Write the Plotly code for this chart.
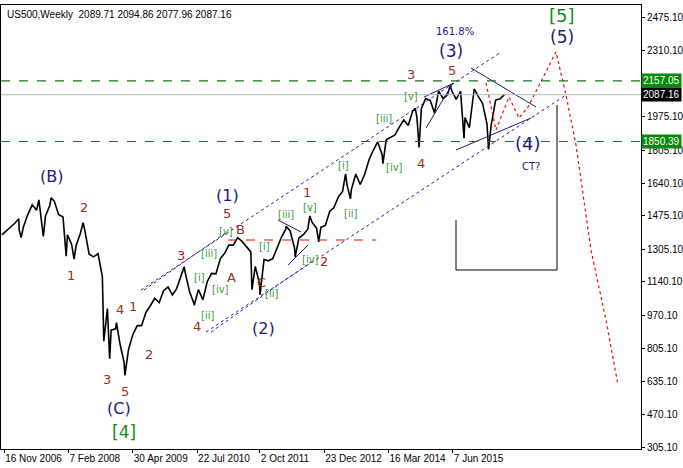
import plotly.graph_objects as go
import pandas as pd
from datetime import datetime, timedelta

# ================== 데이터 ==================
months = pd.date_range("2006-10-31", "2016-05-31", freq="ME")
closes = [
    1378, 1400, 1418,
    1438, 1406, 1421, 1482, 1530, 1503, 1455, 1474, 1527, 1549, 1481, 1468,
    1378, 1330, 1323, 1386, 1400, 1280, 1267, 1283, 1166, 969, 896, 903,
    826, 735, 798, 873, 919, 919, 987, 1021, 1057, 1036, 1096, 1115,
    1074, 1104, 1169, 1187, 1089, 1031, 1102, 1049, 1141, 1183, 1181, 1258,
    1286, 1327, 1326, 1364, 1345, 1321, 1292, 1219, 1131, 1253, 1247, 1258,
    1312, 1366, 1408, 1398, 1310, 1362, 1379, 1407, 1441, 1412, 1416, 1426,
    1498, 1515, 1569, 1598, 1631, 1606, 1686, 1633, 1682, 1757, 1806, 1848,
    1783, 1859, 1872, 1884, 1924, 1960, 1931, 2003, 1972, 2018, 2068, 2059,
    1995, 2105, 2068, 2086, 2107, 2063, 2104, 1972, 1920, 2079, 2080, 2044,
    1940, 1932, 2060, 2065, 2087.16,
]
# 월중 고점/저점 (차트에서 눈으로 읽음)
extreme_dates = ["2007-02-26", "2007-03-14", "2007-07-16", "2007-08-16", "2007-10-09",
                 "2008-01-22", "2008-03-17", "2008-05-19", "2008-10-10", "2008-11-04",
                 "2008-11-20", "2009-01-06", "2009-03-06", "2010-04-23", "2010-07-02",
                 "2011-04-29", "2011-08-08", "2011-10-03", "2012-04-02", "2012-06-04",
                 "2012-09-14", "2012-11-15", "2013-05-21", "2013-06-24", "2014-02-05",
                 "2014-09-18", "2014-10-15", "2015-05-20", "2015-08-24", "2015-11-03",
                 "2016-02-11"]
extreme_vals = [1460, 1364, 1555, 1370, 1565,
                1270, 1256, 1440, 840, 1005,
                752, 934, 667, 1217, 1022,
                1364, 1101, 1075, 1422, 1266,
                1474, 1343, 1687, 1560, 1738,
                2019, 1820, 2134, 1867, 2116,
                1810]

price = pd.Series(closes, index=months)
price = pd.concat([price, pd.Series(extreme_vals, index=pd.to_datetime(extreme_dates))]).sort_index()

tick_dates = ["2006-11-16", "2008-02-07", "2009-04-30", "2010-07-22",
              "2011-10-02", "2012-12-23", "2014-03-16", "2015-06-07"]
tick_text = ["16 Nov 2006", "7 Feb 2008", "30 Apr 2009", "22 Jul 2010",
             "2 Oct 2011", "23 Dec 2012", "16 Mar 2014", "7 Jun 2015"]
y_ticks = [305.10, 470.10, 635.10, 805.10, 970.10, 1140.10, 1305.10,
           1475.10, 1640.10, 1805.10, 1975.10, 2310.10, 2475.10]
level_hi, level_lo, last_price = 2157.05, 1850.39, 2087.16

# ================== 화면 좌표 -> 데이터 좌표 ==================
BASE = datetime(2006, 10, 25)
def X(px):
    return BASE + timedelta(weeks=px / 1.005)
def Y(py):
    return 305.1 + (447 - py) / 0.1977

NAVY = "#1a1a80"
RED = "#9b2d20"
GRN = "#3a9a3a"
FONT = "Liberation Sans"

fig = go.Figure()
fig.add_trace(go.Scatter(x=price.index, y=price.values, mode="lines",
                         line=dict(color="black", width=1.6), hoverinfo="skip"))

def seg(pts, color, dash="solid", width=1):
    fig.add_trace(go.Scatter(x=[X(p[0]) for p in pts], y=[Y(p[1]) for p in pts],
                             mode="lines", line=dict(color=color, dash=dash, width=width),
                             hoverinfo="skip"))

# 채널 / 삼각형 / 예상 경로
seg([(140, 290), (500, 52)], "#2020a0", "dot")
seg([(205, 332), (565, 95)], "#2020a0", "dot")
seg([(210, 332), (310, 262)], "#2020a0", "dot")
seg([(143, 290), (226, 232)], "#2020a0", "dot")
seg([(277, 220), (300, 232)], NAVY)
seg([(287, 265), (307, 245)], NAVY)
seg([(423, 97), (453, 83)], NAVY)
seg([(425, 128), (452, 83)], NAVY)
seg([(470, 68), (535, 107)], NAVY)
seg([(455, 150), (530, 118)], NAVY)
seg([(227, 240), (375, 240)], "red", "dash")
seg([(485, 83), (495, 130), (508, 97), (518, 118), (527, 107), (555, 52),
     (565, 95), (575, 145), (590, 250), (605, 320), (617, 385)], "red", "dot", 1.2)
seg([(455, 220), (455, 270), (556, 270), (556, 105)], "black")

for lv in (level_hi, level_lo):
    fig.add_hline(y=lv, line=dict(color="#1e6e1e", dash="dash", width=1.2))
fig.add_hline(y=last_price, line=dict(color="#b8b8b8", width=1))

# 파동 라벨
labels = [
    ("(B)", 50, 176, NAVY, 16), ("2", 83, 207, RED, 13), ("1", 70, 275, RED, 13),
    ("4", 119, 309, RED, 13), ("1", 132, 306, RED, 13), ("3", 106, 379, RED, 13),
    ("5", 124, 391, RED, 13), ("2", 148, 354, RED, 13), ("(C)", 118, 408, NAVY, 16),
    ("[4]", 123, 432, "#1a8a1a", 17),
    ("3", 180, 255, RED, 13), ("A", 230, 277, RED, 13), ("4", 196, 326, RED, 13),
    ("5", 226, 213, RED, 13), ("B", 239, 229, RED, 13), ("(1)", 226, 195, NAVY, 16),
    ("[iii]", 208, 253, GRN, 10), ("[v]", 225, 231, GRN, 10), ("[i]", 198, 277, GRN, 10),
    ("[iv]", 219, 289, GRN, 10), ("[ii]", 206, 315, GRN, 10), ("[i]", 263, 246, GRN, 10),
    ("C", 260, 282, RED, 13), ("(2)", 262, 328, NAVY, 16), ("[ii]", 270, 293, GRN, 10),
    ("[iii]", 285, 214, GRN, 10), ("[v]", 309, 207, GRN, 10), ("1", 306, 192, RED, 13),
    ("[iv]", 309, 259, GRN, 10), ("2", 323, 261, RED, 13),
    ("[i]", 342, 165, GRN, 10), ("[ii]", 349, 213, GRN, 10), ("[iii]", 383, 118, GRN, 10),
    ("[iv]", 393, 167, GRN, 10), ("[v]", 410, 96, GRN, 10), ("3", 410, 74, RED, 13),
    ("4", 420, 163, RED, 13), ("5", 451, 70, RED, 13), ("(3)", 450, 51, NAVY, 17),
    ("161.8%", 454, 31, NAVY, 10), ("(4)", 527, 143, NAVY, 18), ("CT?", 530, 166, NAVY, 10),
    ("[5]", 561, 15, "#1a8a1a", 18), ("(5)", 561, 37, NAVY, 17),
]
for t, px, py, c, s in labels:
    fig.add_annotation(x=X(px), y=Y(py), text=t, showarrow=False,
                       font=dict(color=c, size=s, family="DejaVu Sans"))

fig.add_annotation(xref="paper", yref="paper", x=0.006, y=0.995, xanchor="left", yanchor="top",
                   text="US500,Weekly  2089.71 2094.86 2077.96 2087.16", showarrow=False,
                   font=dict(size=10, color="black", family=FONT))

for lv, bg in ((level_hi, "#0a8a0a"), (last_price, "black"), (level_lo, "#0a8a0a")):
    fig.add_annotation(xref="paper", x=1.0, y=lv, xanchor="left", text=f"{lv:.2f}",
                       showarrow=False, bgcolor=bg, borderpad=1,
                       font=dict(size=10, color="white", family=FONT))

fig.update_layout(
    width=683, height=468, showlegend=False,
    margin=dict(l=1, r=42, t=5, b=19),
    paper_bgcolor="white", plot_bgcolor="white",
    xaxis=dict(range=[X(0), X(640)], tickvals=pd.to_datetime(tick_dates), ticktext=tick_text,
               showgrid=False, ticks="outside", ticklen=3, tickcolor="black",
               ticklabelposition="outside right", tickangle=0, automargin=False,
               showline=True, linecolor="black", mirror=True,
               tickfont=dict(size=10, color="black", family=FONT)),
    yaxis=dict(range=[Y(449), Y(5)], side="right", tickvals=y_ticks,
               ticktext=[f"{v:.2f}" for v in y_ticks], showgrid=False,
               ticks="outside", ticklen=3, tickcolor="black", automargin=False,
               showline=True, linecolor="black", mirror=True,
               tickfont=dict(size=10, color="black", family=FONT)),
)

fig.write_html("out.html", config={"displayModeBar": False},
               post_script="document.body.style.margin='0';")
